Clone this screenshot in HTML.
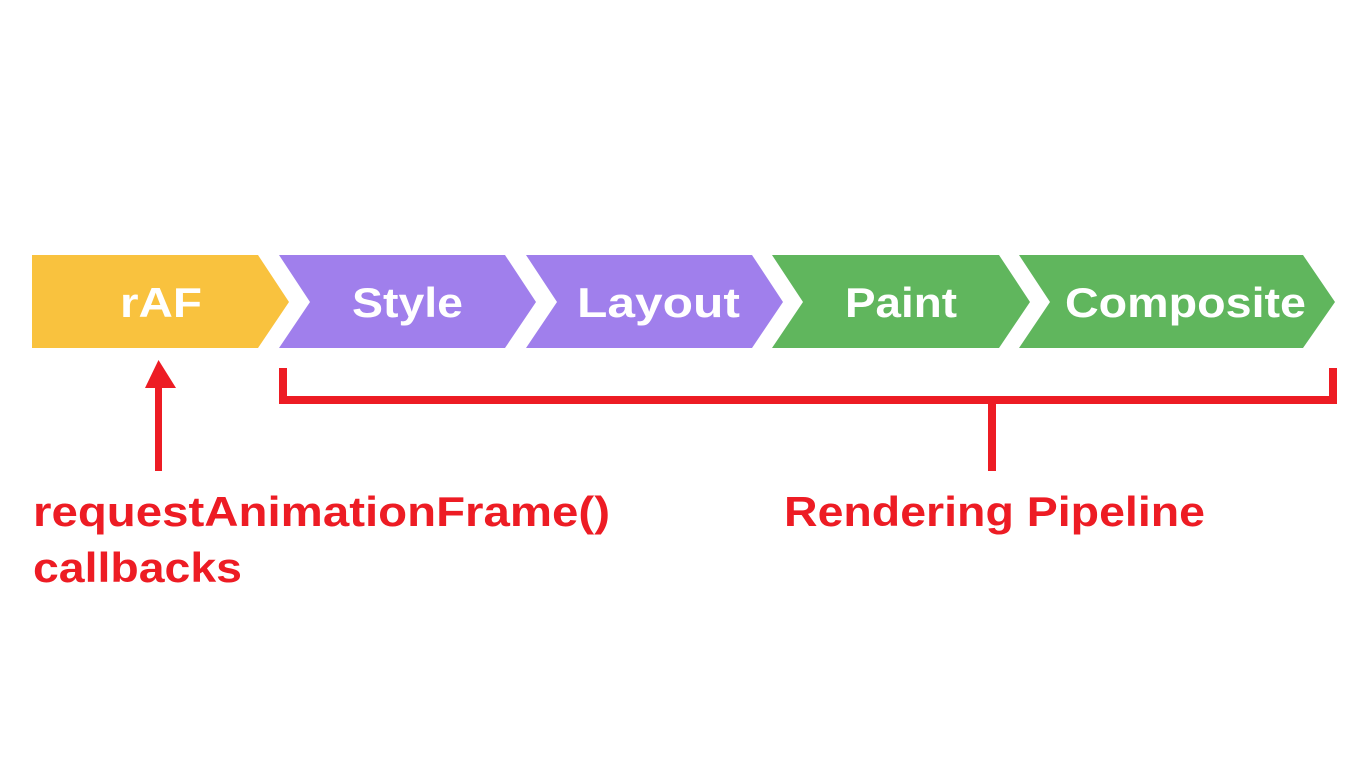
<!DOCTYPE html>
<html><head><meta charset="utf-8"><style>
html,body{margin:0;padding:0;background:#fff;}
svg{display:block}
</style></head><body>
<svg width="1366" height="768" viewBox="0 0 1366 768" xmlns="http://www.w3.org/2000/svg">
<g font-family="Liberation Sans, sans-serif" font-size="42" fill="#fff" font-weight="bold" lengthAdjust="spacingAndGlyphs">
<polygon points="32,255 258,255 289,302 258,348 32,348" fill="#f9c23e"/>
<polygon points="279,255 505,255 536,302 505,348 279,348 310,302" fill="#a07fec"/>
<polygon points="526,255 752,255 783,302 752,348 526,348 557,302" fill="#a07fec"/>
<polygon points="772,255 999,255 1030,302 999,348 772,348 803,302" fill="#60b65d"/>
<polygon points="1019,255 1303,255 1335,302 1303,348 1019,348 1050,302" fill="#60b65d"/>
<text x="120" y="317" textLength="82" lengthAdjust="spacingAndGlyphs">rAF</text>
<text x="352" y="317" textLength="111" lengthAdjust="spacingAndGlyphs">Style</text>
<text x="577" y="317" textLength="163" lengthAdjust="spacingAndGlyphs">Layout</text>
<text x="845" y="317" textLength="112" lengthAdjust="spacingAndGlyphs">Paint</text>
<text x="1065" y="317" textLength="241" lengthAdjust="spacingAndGlyphs">Composite</text>
</g>
<g fill="#ed1c24">
<rect x="155" y="386" width="7" height="85"/>
<polygon points="158.5,360 145,388 176,388"/>
<rect x="279" y="368" width="8" height="36"/>
<rect x="279" y="396" width="1058" height="8"/>
<rect x="1329" y="368" width="8" height="36"/>
<rect x="988" y="400" width="8" height="71"/>
</g>
<g font-family="Liberation Sans, sans-serif" font-size="42" fill="#ed1c24" font-weight="bold">
<text x="33" y="526" textLength="577" lengthAdjust="spacingAndGlyphs">requestAnimationFrame()</text>
<text x="33" y="582" textLength="209" lengthAdjust="spacingAndGlyphs">callbacks</text>
<text x="784" y="526" textLength="421" lengthAdjust="spacingAndGlyphs">Rendering Pipeline</text>
</g>
</svg>
</body></html>
